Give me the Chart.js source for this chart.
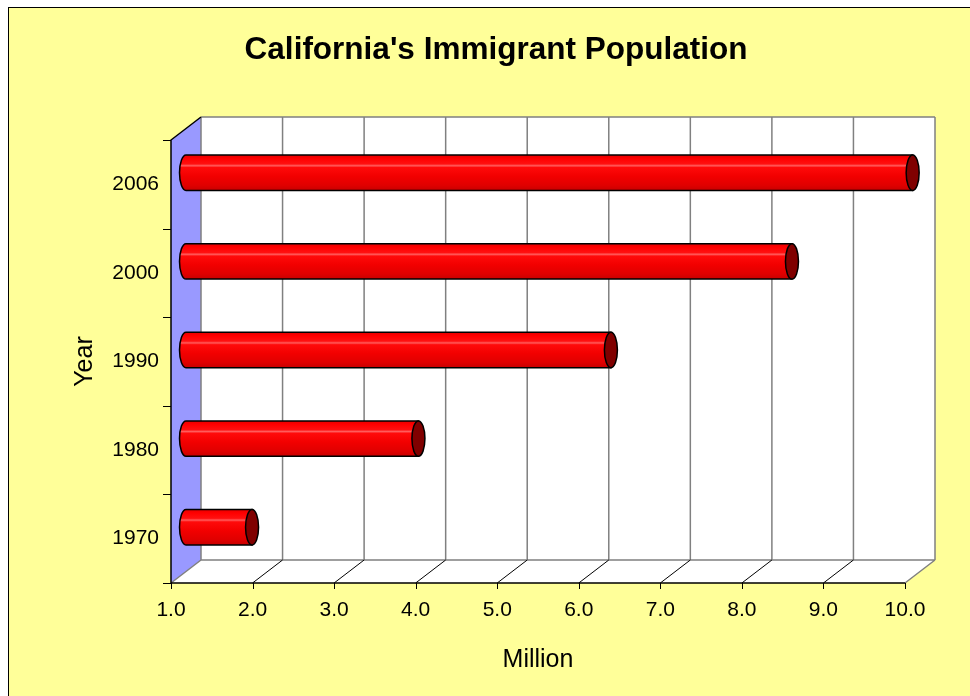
<!DOCTYPE html>
<html>
<head>
<meta charset="utf-8">
<title>California's Immigrant Population</title>
<script src="https://cdn.jsdelivr.net/npm/chart.js@4.4.0/dist/chart.umd.min.js"></script>
<style>
    html, body { margin: 0; padding: 0; background: #ffffff; }
    #wrap { width: 970px; height: 696px; }
</style>
</head>
<body>
<div id="wrap"><canvas id="popChart" width="970" height="696"></canvas></div>
<script>
// ==================== DATA ====================

const years = ['2006', '2000', '1990', '1980', '1970'];
const immigrants = [9.91, 8.43, 6.21, 3.85, 1.81];   // million people
const xTicks = [1, 2, 3, 4, 5, 6, 7, 8, 9, 10];
const chartTitle = "California's Immigrant Population";
const xTitle = 'Million';
const yTitle = 'Year';

// ==================== STYLE ====================

const fontFamily = "'Liberation Sans', Arial, sans-serif";
const depthX = 30;      // 3D depth of the plot box
const depthY = -23;
const wallBlue = '#9999ff';
const gridGray = '#808080';

// ==================== 3D FRAME PLUGIN ====================

const frame3d = {
    id: 'frame3d',

    beforeDraw(chart) {
        const ctx = chart.ctx;
        const w = chart.width, h = chart.height;
        ctx.save();
        ctx.fillStyle = '#ffffff';
        ctx.fillRect(0, 0, w, h);
        ctx.fillStyle = '#ffff99';
        ctx.fillRect(8.5, 7.5, w, h);
        ctx.strokeStyle = '#000000';
        ctx.lineWidth = 1;
        ctx.strokeRect(8.5, 7.5, w, h);
        ctx.restore();
    },

    beforeDatasetsDraw(chart) {
        const ctx = chart.ctx;
        const { left: L, right: R, top: T, bottom: B } = chart.chartArea;
        const xs = chart.scales.x;
        const ys = chart.scales.y;

        ctx.save();

        // back wall
        ctx.fillStyle = '#ffffff';
        ctx.fillRect(L + depthX, T + depthY, R - L, B - T);

        // left wall
        ctx.fillStyle = wallBlue;
        ctx.beginPath();
        ctx.moveTo(L, T);
        ctx.lineTo(L + depthX, T + depthY);
        ctx.lineTo(L + depthX, B + depthY);
        ctx.lineTo(L, B);
        ctx.closePath();
        ctx.fill();

        // floor
        ctx.fillStyle = '#ffffff';
        ctx.beginPath();
        ctx.moveTo(L, B);
        ctx.lineTo(L + depthX, B + depthY);
        ctx.lineTo(R + depthX, B + depthY);
        ctx.lineTo(R, B);
        ctx.closePath();
        ctx.fill();

        // gridlines on back wall + top edge
        ctx.strokeStyle = gridGray;
        ctx.lineWidth = 1.5;
        ctx.beginPath();
        ctx.moveTo(L + depthX, T + depthY);
        ctx.lineTo(R + depthX, T + depthY);
        ctx.moveTo(L + depthX, B + depthY);
        ctx.lineTo(R + depthX, B + depthY);
        xs.ticks.forEach(t => {
            const px = xs.getPixelForValue(t.value);
            ctx.moveTo(px + depthX, T + depthY);
            ctx.lineTo(px + depthX, B + depthY);
        });
        // outer floor diagonals
        ctx.moveTo(L, B);
        ctx.lineTo(L + depthX, B + depthY);
        ctx.moveTo(R, B);
        ctx.lineTo(R + depthX, B + depthY);
        ctx.stroke();

        // floor diagonals at inner ticks
        ctx.strokeStyle = '#000000';
        ctx.lineWidth = 1;
        ctx.beginPath();
        xs.ticks.forEach((t, i) => {
            if (i === 0 || i === xs.ticks.length - 1) return;
            const px = xs.getPixelForValue(t.value);
            ctx.moveTo(px, B);
            ctx.lineTo(px + depthX, B + depthY);
        });
        ctx.stroke();

        // front edges of left wall and floor
        ctx.lineWidth = 1.5;
        ctx.beginPath();
        ctx.moveTo(L + depthX, T + depthY);
        ctx.lineTo(L, T);
        ctx.lineTo(L, B);
        ctx.lineTo(R, B);
        ctx.stroke();

        // tick marks
        ctx.lineWidth = 1;
        ctx.beginPath();
        xs.ticks.forEach(t => {
            const px = Math.round(xs.getPixelForValue(t.value)) + 0.5;
            ctx.moveTo(px, B);
            ctx.lineTo(px, B + 6);
        });
        const step = ys.getPixelForTick(1) - ys.getPixelForTick(0);
        for (let i = 0; i <= years.length; i++) {
            const py = Math.round(ys.getPixelForTick(0) - step / 2 + i * step) + 0.5;
            ctx.moveTo(L - 8, py);
            ctx.lineTo(L, py);
        }
        ctx.stroke();

        ctx.restore();
    },

    afterDatasetsDraw(chart) {
        const ctx = chart.ctx;
        const meta = chart.getDatasetMeta(0);
        meta.data.forEach(bar => {
            const p = bar.getProps(['x', 'y', 'base', 'height'], true);
            const x0 = p.base + depthX / 2;
            const x1 = p.x + depthX / 2;
            const cy = p.y + depthY / 2;
            drawCylinder(ctx, x0, x1, cy - p.height / 2, cy + p.height / 2);
        });
    }
};

function drawCylinder(ctx, x0, x1, top, bottom) {
    const rx = 6.5;
    const cy = (top + bottom) / 2;
    const ry = (bottom - top) / 2;

    const grad = ctx.createLinearGradient(0, top, 0, bottom);
    grad.addColorStop(0, '#e60000');
    grad.addColorStop(0.1, '#ff0000');
    grad.addColorStop(0.25, '#ff1010');
    grad.addColorStop(0.3, '#ff5c5c');
    grad.addColorStop(0.35, '#ff0a0a');
    grad.addColorStop(0.6, '#f20000');
    grad.addColorStop(0.85, '#e00000');
    grad.addColorStop(1, '#c80000');

    ctx.save();
    ctx.lineWidth = 1.5;
    ctx.strokeStyle = '#000000';

    // body
    ctx.beginPath();
    ctx.moveTo(x1, top);
    ctx.lineTo(x0, top);
    ctx.ellipse(x0, cy, rx, ry, 0, -Math.PI / 2, Math.PI / 2, true);
    ctx.lineTo(x1, bottom);
    ctx.closePath();
    ctx.fillStyle = grad;
    ctx.fill();
    ctx.stroke();

    // end cap
    ctx.beginPath();
    ctx.ellipse(x1, cy, rx, ry, 0, 0, Math.PI * 2);
    ctx.fillStyle = '#800000';
    ctx.fill();
    ctx.stroke();
    ctx.restore();
}

// ==================== CHART ====================

const ctx = document.getElementById('popChart').getContext('2d');
const popChart = new Chart(ctx, {
    type: 'bar',
    data: {
        labels: years,
        datasets: [{
            label: 'Immigrants (million)',
            data: immigrants,
            base: 1,
            backgroundColor: 'rgba(0, 0, 0, 0)',
            borderWidth: 0,
            barPercentage: 0.4,
            categoryPercentage: 1
        }]
    },
    options: {
        indexAxis: 'y',
        responsive: false,
        devicePixelRatio: 1,
        animation: false,
        layout: {
            padding: { left: 87, right: 65, top: 0, bottom: 0 }
        },
        plugins: {
            legend: { display: false },
            tooltip: { enabled: false },
            title: {
                display: true,
                text: chartTitle,
                color: '#000000',
                font: { family: fontFamily, size: 31.5, weight: 'bold', lineHeight: 1.2 },
                padding: { top: 31, bottom: 71.2 }
            }
        },
        scales: {
            x: {
                type: 'linear',
                position: 'bottom',
                min: 1,
                max: 10,
                afterBuildTicks: (scale) => {
                    scale.ticks = xTicks.map(v => ({ value: v }));
                },
                afterFit: (scale) => { scale.height = 113; },
                ticks: {
                    callback: (v) => Number(v).toFixed(1),
                    color: '#000000',
                    font: { family: fontFamily, size: 21 },
                    padding: 15,
                    maxRotation: 0,
                    autoSkip: false
                },
                grid: { display: false, drawTicks: false },
                border: { display: false },
                title: {
                    display: true,
                    text: xTitle,
                    color: '#000000',
                    font: { family: fontFamily, size: 25, lineHeight: 1.2 },
                    padding: { top: 0, bottom: 21 }
                }
            },
            y: {
                type: 'category',
                position: 'left',
                afterFit: (scale) => { scale.width = 84; },
                ticks: {
                    color: '#000000',
                    font: { family: fontFamily, size: 21 },
                    padding: 12
                },
                grid: { display: false, drawTicks: false, offset: true },
                border: { display: false },
                title: {
                    display: true,
                    text: yTitle,
                    color: '#000000',
                    font: { family: fontFamily, size: 25, lineHeight: 1.2 },
                    padding: { top: -17, bottom: 0 }
                }
            }
        }
    },
    plugins: [frame3d]
});
</script>
</body>
</html>
